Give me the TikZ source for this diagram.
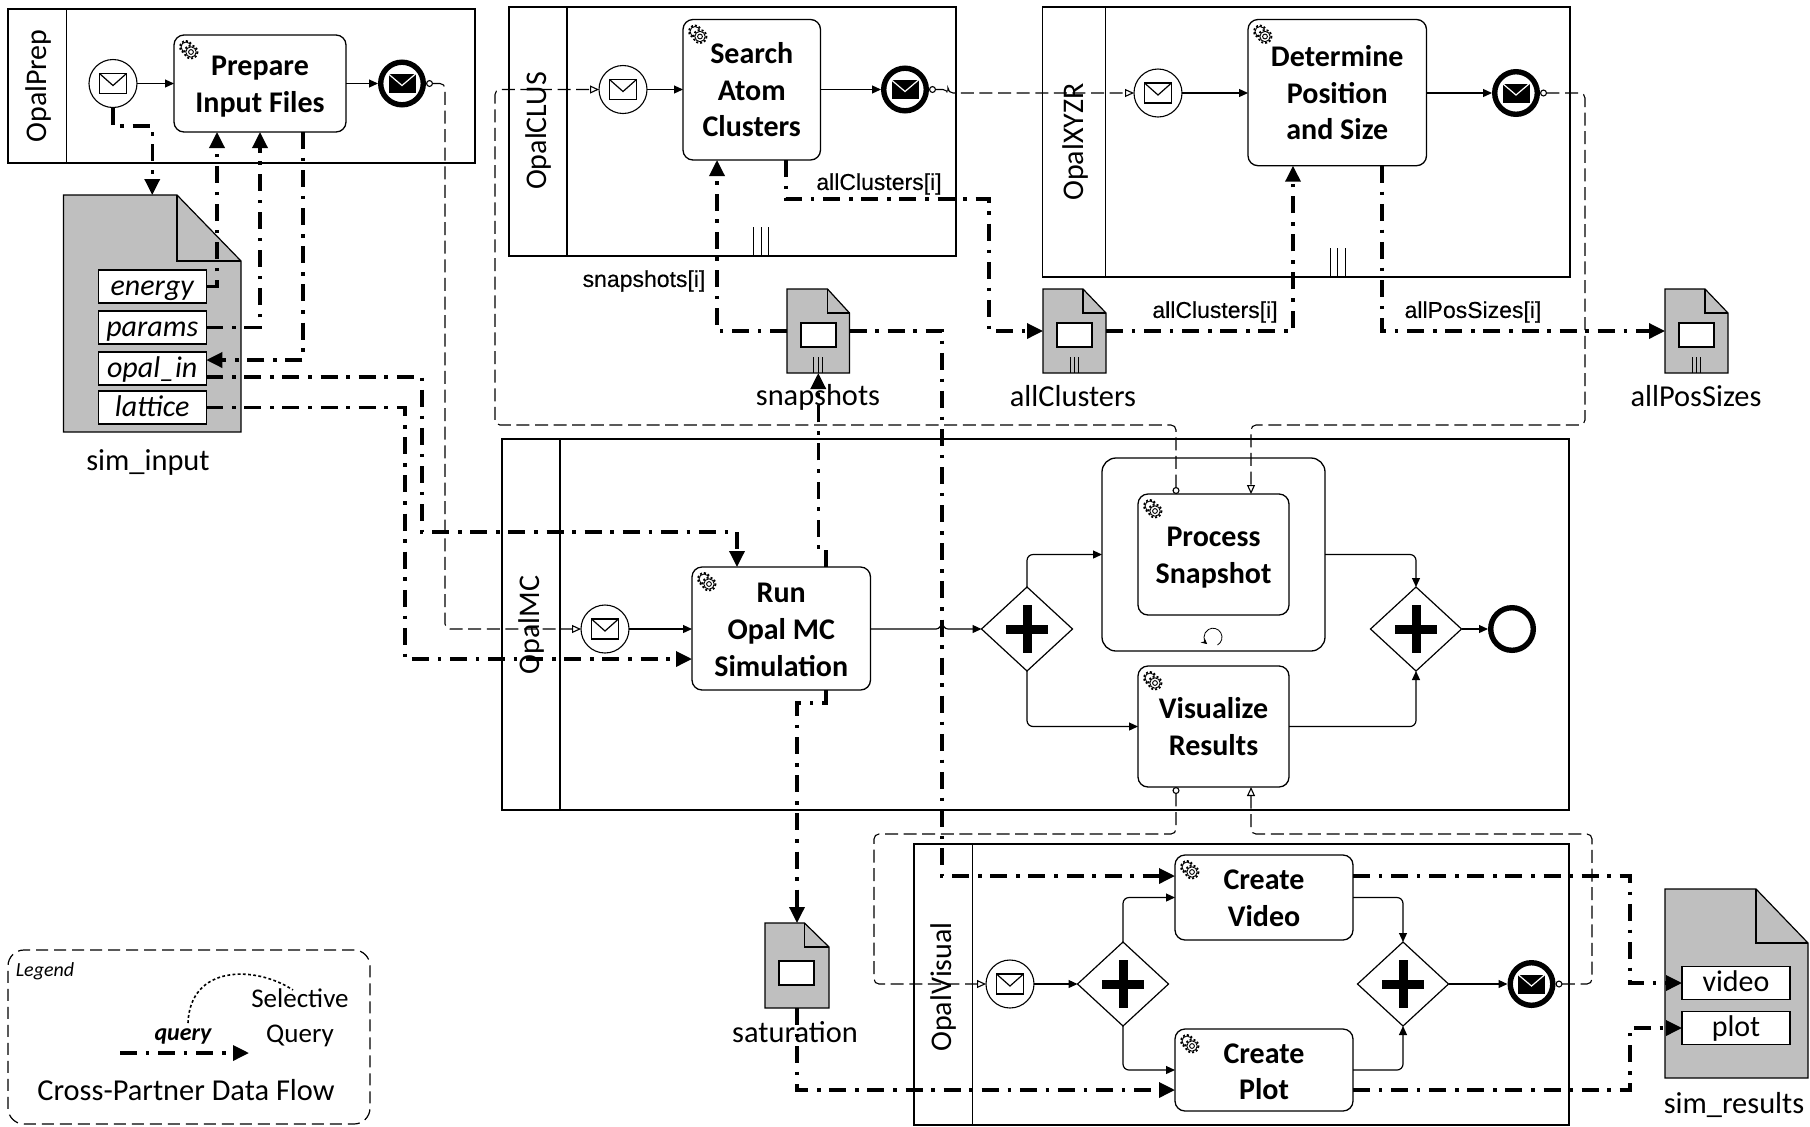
\documentclass[tikz,border=0pt]{standalone}
\usepackage{fontspec}
\setmainfont{Carlito}
\newfontfamily\arialfont[FakeBold=0.35]{Liberation Sans}
\usetikzlibrary{arrows.meta,shapes.geometric,fit}
\definecolor{docgray}{HTML}{BFBFBF}
\newcommand{\tp}[1]{\rule{0pt}{#1pt}}
\tikzset{
  pool/.style={draw,line width=.9pt,inner sep=0,outer sep=0},
  poollabel/.style={rotate=90,font=\fontsize{15}{18}\selectfont,inner sep=0},
  task/.style={draw,fill=white,line width=.65pt,rounded corners=5pt,align=center,inner sep=0,outer sep=0,font=\fontsize{15}{18.3}\selectfont\bfseries},
  loopbox/.style={draw,line width=.65pt,rounded corners=7pt,inner sep=0,outer sep=0},
  startev/.style={circle,draw,fill=white,line width=.55pt,minimum size=24pt,inner sep=0,outer sep=0},
  endev/.style={circle,draw,fill=white,line width=2.7pt,minimum size=21.3pt,inner sep=0,outer sep=1.35pt},
  gatew/.style={diamond,draw,fill=white,line width=.6pt,minimum width=45.5pt,minimum height=42pt,inner sep=0,outer sep=0},
  item/.style={draw,fill=white,line width=.6pt,minimum height=16.5pt,text height=10pt,text depth=1.5pt,inner sep=0,outer sep=0,font=\fontsize{15}{18}\selectfont},
  lbl/.style={inner sep=0,font=\fontsize{15.2}{18}\selectfont},
  dlbl/.style={inner sep=0,font=\fontsize{11.5}{14}\selectfont\arialfont},
  seqflow/.style={line width=.6pt,rounded corners=3pt,-{Triangle[length=4.5pt,width=4pt]}},
  msgflow/.style={line width=.55pt,rounded corners=2.5pt,dash pattern=on 6.5pt off 2.8pt,{Circle[open,fill=white,length=3.5pt,width=3.5pt]}-{Triangle[open,fill=white,length=4.5pt,width=4pt]}},
  dataflow/.style={line width=1.7pt,dash pattern=on 8.5pt off 4.4pt on 1.75pt off 4.4pt,-{Triangle[length=8pt,width=7.5pt]}},
  envopen/.pic={\draw[line width=.6pt,fill=white] (-13.5,-10) rectangle (13.5,10);
    \draw[line width=.6pt] (-13.5,-10) -- (0,2) -- (13.5,-10);},
  envfull/.pic={\fill (-13.5,-9.5) rectangle (13.5,9.5);
    \draw[white,line width=.6pt] (-13.5,-9.5) -- (0,2) -- (13.5,-9.5);},
  gearmark/.pic={\begin{scope}[shift={(15,15)}]
    \draw[line width=.9pt,dash pattern=on 1pt off 1pt] (-3,-3) circle (6);
    \draw[line width=.45pt,fill=white] (-3,-3) circle (5);
    \fill[white] (2,2) circle (7);
    \draw[line width=.9pt,dash pattern=on 1pt off 1pt] (2,2) circle (6.5);
    \draw[line width=.45pt,fill=white] (2,2) circle (5.2);
    \draw[line width=.45pt] (2,2) circle (2.4);
    \end{scope}},
  plusmark/.pic={\fill (-21,-4.5) rectangle (21,4.5); \fill (-4.5,-24) rectangle (4.5,24);}
}
\newcommand{\mydoc}[7]{%
  \filldraw[fill=docgray,line width=.6pt] (#2,#3) -- (#6,#3) -- (#4,#7) -- (#4,#5) -- (#2,#5) -- cycle;
  \draw[line width=.6pt] (#6,#3) -- (#6,#7) -- (#4,#7);
  \node[fit={(#2,#3) (#4,#5)},inner sep=0,outer sep=0] (#1) {};}
\newcommand{\collmark}[3]{\foreach \d in {-7.5,0,7.5} \draw[line width=.45pt] (#1+\d,#2) -- (#1+\d,#3);}
\newcommand{\docmark}[3]{\foreach \d in {-4.4,0,4.4} \draw[line width=.45pt] (#1+\d,#2) -- (#1+\d,#3);}
\begin{document}
\begin{tikzpicture}[x=.5pt,y=-.5pt]
\useasboundingbox (0,0) rectangle (1810,1126);
% pools
\node[pool,minimum width=233.5pt,minimum height=77pt] (pprep) at (241.5,86) {};
\node[pool,minimum width=223.5pt,minimum height=124.5pt] (pclus) at (732.5,131.5) {};
\node[pool,minimum width=263.75pt,minimum height=135pt] (pxyz) at (1306.25,142) {};
\node[pool,minimum width=533.5pt,minimum height=185.5pt] (pmc) at (1035.5,624.5) {};
\node[pool,minimum width=327.5pt,minimum height=140.5pt] (pvis) at (1241.5,984.5) {};
\draw[line width=.7pt] (66.5,0 |- pprep.north) -- (66.5,0 |- pprep.south);
\draw[line width=.7pt] (567,0 |- pclus.north) -- (567,0 |- pclus.south);
\draw[line width=.7pt] (1105.5,0 |- pxyz.north) -- (1105.5,0 |- pxyz.south);
\draw[line width=.7pt] (560,0 |- pmc.north) -- (560,0 |- pmc.south);
\draw[line width=.7pt] (972.5,0 |- pvis.north) -- (972.5,0 |- pvis.south);
\node[poollabel] (lprep) at (38.5,86) {OpalPrep};
\node[poollabel] (lclus) at (538,131) {OpalCLUS};
\node[poollabel] (lxyz) at (1075,142) {OpalXYZR};
\node[poollabel] (lmc) at (531,625) {OpalMC};
\node[poollabel] (lvis) at (943,987) {OpalVisual};
\collmark{761}{227}{256}
\collmark{1337.5}{248}{277}
% documents
\mydoc{simin}{63.5}{195}{241}{432}{177}{261}
\node[item,minimum width=54pt,font=\fontsize{15}{18}\selectfont\itshape] (energy) at (152.25,286.5) {energy};
\node[item,minimum width=54pt,font=\fontsize{15}{18}\selectfont\itshape] (params) at (152.25,327.5) {params};
\node[item,minimum width=54pt,font=\fontsize{15}{18}\selectfont\itshape] (opalin) at (152.25,368.5) {opal\_in};
\node[item,minimum width=54pt,font=\fontsize{15}{18}\selectfont\itshape] (lattice) at (152.25,407.5) {lattice};
\node[lbl] (lsimin) at (148,462) {sim\_input};
\mydoc{snaps}{787}{289}{849.5}{373}{827.5}{313}
\draw[fill=white,line width=.6pt] (801,323) rectangle (836,347);
\docmark{818.3}{357}{373}
\node[lbl] (lsnaps) at (818,397) {snapshots};
\mydoc{allclu}{1043}{289}{1106}{373}{1083}{313}
\draw[fill=white,line width=.6pt] (1057,323) rectangle (1092,347);
\docmark{1074.5}{357}{373}
\node[lbl] (lallclu) at (1073,396) {allClusters};
\mydoc{allpos}{1665}{289}{1728}{373}{1705}{313}
\draw[fill=white,line width=.6pt] (1679,323) rectangle (1714,347);
\docmark{1696.5}{357}{373}
\node[lbl] (lallpos) at (1696,396) {allPosSizes};
\mydoc{sat}{765}{923}{829}{1008}{804.5}{947}
\draw[fill=white,line width=.6pt] (779,961) rectangle (814,985);
\node[lbl] (lsat) at (795,1032) {saturation};
\mydoc{simres}{1665}{889}{1808}{1078}{1756}{943}
\node[item,minimum width=54pt] (vidbox) at (1736,983) {video};
\node[item,minimum width=54pt] (pltbox) at (1736,1028) {plot};
\node[lbl] (lsimres) at (1734,1105) {sim\_results};
% tasks
\node[task,minimum width=86pt,minimum height=48.5pt] (prep) at (260,83.5) {\tp{13}Prepare\\Input Files};
\node[task,minimum width=68.75pt,minimum height=70.25pt] (search) at (751.75,89.75) {Search\\Atom\\Clusters};
\node[task,minimum width=89.25pt,minimum height=73.1pt] (det) at (1337.25,92.6) {Determine\\Position\\and Size};
\node[task,minimum width=89.25pt,minimum height=61.5pt] (run) at (781.25,628.5) {\tp{11}Run\\Opal MC\\Simulation};
\node[loopbox,minimum width=111.5pt,minimum height=96.5pt] (loop) at (1213.5,554.5) {};
\node[task,minimum width=75.5pt,minimum height=60.5pt] (ps) at (1213.5,554.5) {\tp{13}Process\\Snapshot};
\node[task,minimum width=75.5pt,minimum height=60.5pt] (vis) at (1213.5,726.5) {Visualize\\Results};
\node[task,minimum width=89pt,minimum height=42.5pt] (cvideo) at (1264,897.5) {\tp{10.6}Create\\Video};
\node[task,minimum width=89pt,minimum height=41pt] (cplot) at (1264,1070) {\tp{11.6}Create\\Plot};
\foreach \t in {prep,search,det,run,ps,vis,cvideo,cplot} \pic at (\t.north west) {gearmark};
\draw[line width=.4pt,-{Stealth[length=3pt,width=3pt]}] (1217.5,645) arc[start angle=60,end angle=-230,radius=9];
% events
\node[startev] (s1) at (113,83.5) {}; \pic at (s1) {envopen};
\node[endev] (e1) at (402,83.5) {}; \pic at (e1) {envfull};
\node[startev] (s2) at (623,89.5) {}; \pic at (s2) {envopen};
\node[endev] (e2) at (905,89.5) {}; \pic at (e2) {envfull};
\node[startev] (s3) at (1158,93) {}; \pic at (s3) {envopen};
\node[endev] (e3) at (1516,93) {}; \pic at (e3) {envfull};
\node[startev] (s4) at (605,629) {}; \pic at (s4) {envopen};
\node[endev] (e4) at (1512,629) {};
\node[startev] (s5) at (1010,984) {}; \pic at (s5) {envopen};
\node[endev] (e5) at (1531.5,984) {}; \pic at (e5) {envfull};
% gateways
\node[gatew] (g1) at (1027,629) {}; \pic at (g1) {plusmark};
\node[gatew] (g2) at (1416,629) {}; \pic at (g2) {plusmark};
\node[gatew] (g3) at (1123,984) {}; \pic at (g3) {plusmark};
\node[gatew] (g4) at (1403,984) {}; \pic at (g4) {plusmark};
% sequence flows
\draw[seqflow] (s1) ++(24,0) -- (prep.west);
\draw[seqflow] (prep.east) -- (e1.west);
\draw[seqflow] (s2.east) -- (search.west |- s2);
\draw[seqflow] (search.east |- e2) -- (e2.west);
\draw[seqflow] (s3.east) -- (det.west |- s3);
\draw[seqflow] (det.east |- e3) -- (e3.west);
\draw[seqflow] (s4.east) -- (run.west |- s4);
\draw[seqflow,rounded corners=0pt] (run.east |- g1) -- (936,629) .. controls (940,629) and (940,625) .. (942,625) .. controls (944,625) and (944,629) .. (948,629) -- (g1.west);
\draw[seqflow] (g1.north) |- (loop.west);
\draw[seqflow] (g1.south) |- (vis.west);
\draw[seqflow] (loop.east) -| (g2.north);
\draw[seqflow] (vis.east) -| (g2.south);
\draw[seqflow] (g2.east) -- (e4.west);
\draw[seqflow] (s5.east) -- (g3.west);
\draw[seqflow] (g3.north) |- (cvideo.west);
\draw[seqflow] (g3.south) |- (cplot.west);
\draw[seqflow] (cvideo.east) -| (g4.north);
\draw[seqflow] (cplot.east) -| (g4.south);
\draw[seqflow] (g4.east) -- (e5.west);
% message flows
\draw[msgflow] (e1.east) -| (445,629) -- (s4.west);
\draw[msgflow] (1176,0 |- ps.north) |- (495,425) |- (s2.west);
\draw[msgflow] (e2.east) -| (948,93) -- (s3.west);
\draw[msgflow] (e3.east) -| (1585,425) -| (1251,0 |- ps.north);
\draw[msgflow] (1176,0 |- vis.south) |- (874,834) |- (s5.west);
\draw[msgflow] (e5.east) -| (1592,834) -| (1251,0 |- vis.south);
% data flows
\draw[dataflow] (s1.south) |- (simin.north |- 0,126) -- (simin.north);
\draw[dataflow] (energy.east) -| (217,0 |- prep.south);
\draw[dataflow] (params.east) -| (260,0 |- prep.south);
\draw[dataflow] (303,0 |- prep.south) |- (opalin.east |- 0,360);
\draw[dataflow] (opalin.east |- 0,377) -| (422,532) -| (737,0 |- run.north);
\draw[dataflow] (lattice.east) -| (405,659) -- (run.west |- 0,659);
\draw[dataflow] (snaps.west) -| (717,0 |- search.south);
\draw[dataflow] (snaps.east) -| (942,876) -- (cvideo.west |- 0,876);
\draw[dataflow] (786,0 |- search.south) |- (989,199) |- (allclu.west);
\draw[dataflow] (allclu.east) -| (1293,0 |- det.south);
\draw[dataflow] (1382,0 |- det.south) |- (allpos.west);
\draw[dataflow] (826,0 |- run.north) |- (snaps.south |- 0,550) -- (snaps.south);
\draw[dataflow] (826,0 |- run.south) |- (sat.north |- 0,703) -- (sat.north);
\draw[dataflow] (sat.south) |- (cplot.west |- 0,1090);
\draw[dataflow] (cvideo.east |- 0,876) -| (1630,983) -- (vidbox.west);
\draw[dataflow] (cplot.east |- 0,1090) -| (1630,1028) -- (pltbox.west);
% data labels
\node[dlbl] (q1) at (644,281) {snapshots[i]};
\node[dlbl] (q2) at (879,184) {allClusters[i]};
\node[dlbl] (q3) at (1215,312) {allClusters[i]};
\node[dlbl] (q4) at (1473,312) {allPosSizes[i]};
% legend
\node[draw,line width=.6pt,dash pattern=on 6pt off 3pt,rounded corners=8pt,minimum width=181pt,minimum height=87pt,inner sep=0] (legend) at (189,1037) {};
\node[inner sep=0,font=\fontsize{10}{12}\selectfont\itshape] (legt) at (45,971) {Legend};
\node[inner sep=0,align=center,font=\fontsize{13.5}{17.5}\selectfont] (sq) at (300,1018) {Selective\\Query};
\node[inner sep=0,font=\fontsize{12}{14}\selectfont\bfseries\itshape] (qw) at (183,1036) {query};
\node[inner sep=0,font=\fontsize{15.2}{18}\selectfont] (cpf) at (186,1090) {Cross-Partner Data Flow};
\coordinate (la) at (120,1053);
\coordinate (lb) at (249,1053);
\coordinate (lc) at (188,1023);
\coordinate (ld) at (293,990);
\draw[dataflow] (la) -- (lb);
\draw[line width=.8pt,dash pattern=on 1.4pt off 1.2pt] (lc) .. controls (190,965) and (255,965) .. (ld);
\end{tikzpicture}
\end{document}
